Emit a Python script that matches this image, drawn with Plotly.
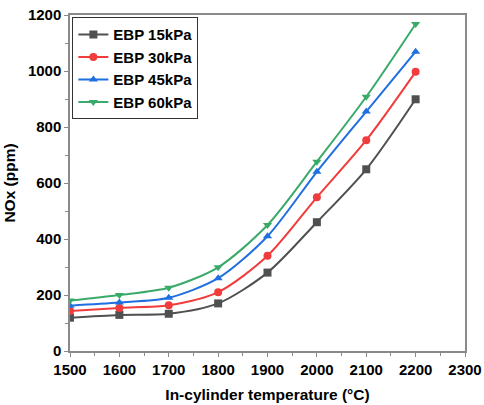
import plotly.graph_objects as go

temps = [1500, 1600, 1700, 1800, 1900, 2000, 2100, 2200]
ebp15 = [119, 129, 133, 170, 280, 460, 649, 899]
ebp30 = [143, 154, 163, 210, 340, 549, 753, 997]
ebp45 = [162, 173, 190, 260, 410, 640, 855, 1069]
ebp60 = [180, 200, 226, 299, 450, 676, 908, 1168]

names = ["EBP 15kPa", "EBP 30kPa", "EBP 45kPa", "EBP 60kPa"]
colors = ["#505050", "#f03c3c", "#1f6fe0", "#3aaa6a"]
symbols = ["square", "circle", "triangle-up", "triangle-down"]
series = [ebp15, ebp30, ebp45, ebp60]

fig = go.Figure()
for n, c, s, ys in zip(names, colors, symbols, series):
    fig.add_trace(go.Scatter(
        x=temps, y=ys, name=n, mode="lines+markers",
        line=dict(color=c, width=2, shape="spline", smoothing=0.8),
        marker=dict(symbol=s, size=8, color=c),
    ))

font_main = "Liberation Sans, Arial, sans-serif"
axis_common = dict(
    showline=True, linecolor="#8a8a8a", linewidth=1.5, mirror=True,
    ticks="outside", ticklen=4, tickcolor="#8a8a8a", tickwidth=1,
    showgrid=False, zeroline=False, automargin=False,
    tickfont=dict(family=font_main, size=15, color="black", weight="bold"),
)

fig.update_layout(
    width=484, height=405,
    margin=dict(l=70, r=19, t=15, b=54),
    paper_bgcolor="white", plot_bgcolor="white",
    font=dict(family=font_main, color="black"),
    showlegend=True,
    legend=dict(
        x=0.006, y=0.993, xanchor="left", yanchor="top",
        bordercolor="#333333", borderwidth=1, bgcolor="white",
        font=dict(family=font_main, size=15, color="black", weight="bold"),
        tracegroupgap=0,
    ),
    xaxis=dict(
        range=[1500, 2300], tickmode="linear", tick0=1500, dtick=100,
        minor=dict(dtick=50, ticks="outside", ticklen=3, tickcolor="#8a8a8a"),
        title=dict(text="In-cylinder temperature (°C)", standoff=12,
                   font=dict(family=font_main, size=15.5, color="black", weight="bold")),
        **axis_common,
    ),
    yaxis=dict(
        range=[0, 1200], tickmode="linear", tick0=0, dtick=200,
        minor=dict(dtick=100, ticks="outside", ticklen=3, tickcolor="#8a8a8a"),
        title=dict(text="NOx (ppm)", standoff=8,
                   font=dict(family=font_main, size=15.5, color="black", weight="bold")),
        **axis_common,
    ),
)

fig.write_html("out.html")
